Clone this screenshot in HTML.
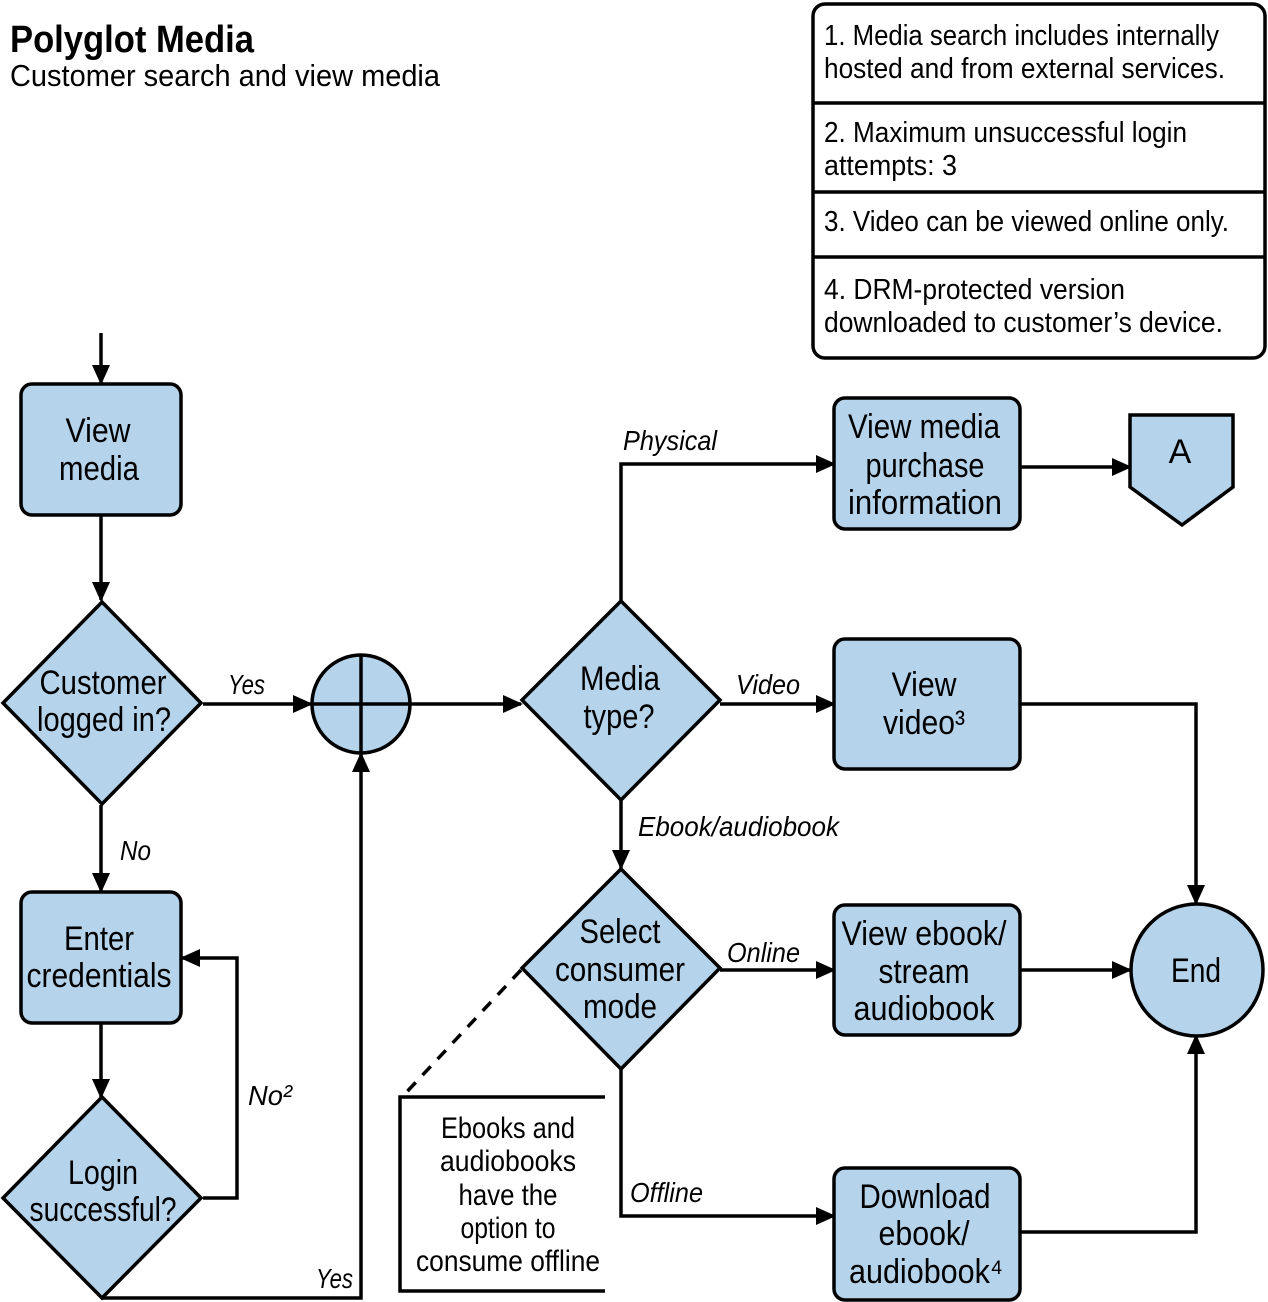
<!DOCTYPE html>
<html><head><meta charset="utf-8"><style>
html,body{margin:0;padding:0;background:#fff}
svg{display:block}
text{font-family:"Liberation Sans",sans-serif;fill:#000}
.n{font-size:34px;text-anchor:middle}
.t{font-size:29px}
.l{font-size:28px;font-style:italic}
.s{stroke:#000;stroke-width:3.5;fill:none}
.f{fill:#b5d3ea;stroke:#000;stroke-width:3.5}
</style></head><body>
<svg width="1268" height="1302" viewBox="0 0 1268 1302" xmlns="http://www.w3.org/2000/svg">
<defs><marker id="a" markerWidth="8" markerHeight="8" refX="7" refY="4" orient="auto" markerUnits="userSpaceOnUse" viewBox="0 0 8 8"><path d="M0,0 L8,4 L0,8 z" fill="#000"/></marker>
<marker id="b" markerWidth="20" markerHeight="20" refX="18" refY="10" orient="auto" markerUnits="userSpaceOnUse"><path d="M0,1 L20,10 L0,19 z" fill="#000"/></marker></defs>

<text x="10" y="52" style="font-size:38px;font-weight:bold" textLength="244" lengthAdjust="spacingAndGlyphs">Polyglot Media</text>
<text x="10" y="86" style="font-size:31px" textLength="430" lengthAdjust="spacingAndGlyphs">Customer search and view media</text>

<!-- notes -->
<rect x="813" y="4" width="452" height="354" rx="12" class="s"/>
<line x1="813" y1="103" x2="1265" y2="103" class="s"/>
<line x1="813" y1="192" x2="1265" y2="192" class="s"/>
<line x1="813" y1="257" x2="1265" y2="257" class="s"/>
<text class="t" x="824" y="45" textLength="395" lengthAdjust="spacingAndGlyphs">1. Media search includes internally</text>
<text class="t" x="824" y="78" textLength="401" lengthAdjust="spacingAndGlyphs">hosted and from external services.</text>
<text class="t" x="824" y="142" textLength="363" lengthAdjust="spacingAndGlyphs">2. Maximum unsuccessful login</text>
<text class="t" x="824" y="175" textLength="133" lengthAdjust="spacingAndGlyphs">attempts: 3</text>
<text class="t" x="824" y="231" textLength="405" lengthAdjust="spacingAndGlyphs">3. Video can be viewed online only.</text>
<text class="t" x="824" y="299" textLength="301" lengthAdjust="spacingAndGlyphs">4. DRM-protected version</text>
<text class="t" x="824" y="332" textLength="399" lengthAdjust="spacingAndGlyphs">downloaded to customer’s device.</text>

<!-- connectors -->
<g class="s">
<line x1="101" y1="333" x2="101" y2="383" marker-end="url(#b)"/>
<line x1="101" y1="515" x2="101" y2="600" marker-end="url(#b)"/>
<line x1="203" y1="704" x2="311" y2="704" marker-end="url(#b)"/>
<line x1="410" y1="704" x2="521" y2="704" marker-end="url(#b)"/>
<polyline points="621,601 621,464 834,464" marker-end="url(#b)"/>
<line x1="1020" y1="467" x2="1130" y2="467" marker-end="url(#b)"/>
<line x1="720" y1="704" x2="834" y2="704" marker-end="url(#b)"/>
<polyline points="1020,704 1196,704 1196,903" marker-end="url(#b)"/>
<line x1="621" y1="800" x2="621" y2="868" marker-end="url(#b)"/>
<line x1="720" y1="970" x2="834" y2="970" marker-end="url(#b)"/>
<line x1="1020" y1="970" x2="1130" y2="970" marker-end="url(#b)"/>
<polyline points="621,1069 621,1216 834,1216" marker-end="url(#b)"/>
<polyline points="1020,1232 1196,1232 1196,1036" marker-end="url(#b)"/>
<line x1="101" y1="805" x2="101" y2="891" marker-end="url(#b)"/>
<line x1="101" y1="1023" x2="101" y2="1097" marker-end="url(#b)"/>
<polyline points="203,1198 237,1198 237,958 182,958" marker-end="url(#b)"/>
<polyline points="102,1298 361,1298 361,754" marker-end="url(#b)"/>
<line x1="521" y1="970" x2="402" y2="1097" stroke-dasharray="12,10"/>
<polyline points="605,1097 400,1097 400,1291 605,1291"/>
</g>

<!-- shapes -->
<rect x="21" y="384" width="160" height="131" rx="11" class="f"/>
<polygon points="102,602 201,703 102,804 3,703" class="f"/>
<circle cx="361" cy="704" r="49" class="f"/>
<line x1="312" y1="704" x2="410" y2="704" class="s"/>
<line x1="361" y1="655" x2="361" y2="753" class="s"/>
<polygon points="621,601 720,700 621,800 522,700" class="f"/>
<rect x="834" y="398" width="186" height="131" rx="11" class="f"/>
<polygon points="1130,415 1233,415 1233,487 1182,525 1130,487" class="f"/>
<rect x="834" y="639" width="186" height="130" rx="11" class="f"/>
<circle cx="1197" cy="970" r="66" class="f"/>
<polygon points="621,869 720,968 621,1069 522,968" class="f"/>
<rect x="834" y="905" width="186" height="130" rx="11" class="f"/>
<rect x="834" y="1168" width="186" height="132" rx="11" class="f"/>
<rect x="21" y="892" width="160" height="131" rx="11" class="f"/>
<polygon points="102,1097 201,1198 102,1298 3,1198" class="f"/>

<!-- node text -->
<text class="n" x="98" y="442" textLength="65" lengthAdjust="spacingAndGlyphs">View</text>
<text class="n" x="99" y="480" textLength="80" lengthAdjust="spacingAndGlyphs">media</text>
<text class="n" x="103" y="694" textLength="127" lengthAdjust="spacingAndGlyphs">Customer</text>
<text class="n" x="104" y="731" textLength="134" lengthAdjust="spacingAndGlyphs">logged in?</text>
<text class="n" x="99" y="950" textLength="70" lengthAdjust="spacingAndGlyphs">Enter</text>
<text class="n" x="99" y="987" textLength="145" lengthAdjust="spacingAndGlyphs">credentials</text>
<text class="n" x="103" y="1184" textLength="70" lengthAdjust="spacingAndGlyphs">Login</text>
<text class="n" x="103" y="1221" textLength="147" lengthAdjust="spacingAndGlyphs">successful?</text>
<text class="n" x="620" y="690" textLength="80" lengthAdjust="spacingAndGlyphs">Media</text>
<text class="n" x="619" y="728" textLength="71" lengthAdjust="spacingAndGlyphs">type?</text>
<text class="n" x="924" y="438" textLength="152" lengthAdjust="spacingAndGlyphs">View media</text>
<text class="n" x="925" y="477" textLength="119" lengthAdjust="spacingAndGlyphs">purchase</text>
<text class="n" x="925" y="514" textLength="154" lengthAdjust="spacingAndGlyphs">information</text>
<text class="n" x="1180" y="463">A</text>
<text class="n" x="924" y="696" textLength="65" lengthAdjust="spacingAndGlyphs">View</text>
<text class="n" x="924" y="734" textLength="82" lengthAdjust="spacingAndGlyphs">video³</text>
<text class="n" x="620" y="943" textLength="81" lengthAdjust="spacingAndGlyphs">Select</text>
<text class="n" x="620" y="981" textLength="130" lengthAdjust="spacingAndGlyphs">consumer</text>
<text class="n" x="620" y="1018" textLength="74" lengthAdjust="spacingAndGlyphs">mode</text>
<text class="n" x="924" y="945" textLength="165" lengthAdjust="spacingAndGlyphs">View ebook/</text>
<text class="n" x="924" y="983" textLength="91" lengthAdjust="spacingAndGlyphs">stream</text>
<text class="n" x="924" y="1020" textLength="141" lengthAdjust="spacingAndGlyphs">audiobook</text>
<text class="n" x="925" y="1208" textLength="131" lengthAdjust="spacingAndGlyphs">Download</text>
<text class="n" x="924" y="1245" textLength="91" lengthAdjust="spacingAndGlyphs">ebook/</text>
<text class="n" x="926" y="1283" textLength="154" lengthAdjust="spacingAndGlyphs">audiobook⁴</text>
<text class="n" x="1196" y="982" textLength="50" lengthAdjust="spacingAndGlyphs">End</text>

<!-- labels -->
<text class="l" x="228" y="694" textLength="37" lengthAdjust="spacingAndGlyphs">Yes</text>
<text class="l" x="120" y="860" textLength="31" lengthAdjust="spacingAndGlyphs">No</text>
<text class="l" x="248" y="1105" textLength="44" lengthAdjust="spacingAndGlyphs">No²</text>
<text class="l" x="316" y="1288" textLength="37" lengthAdjust="spacingAndGlyphs">Yes</text>
<text class="l" x="623" y="450" textLength="94" lengthAdjust="spacingAndGlyphs">Physical</text>
<text class="l" x="736" y="694" textLength="64" lengthAdjust="spacingAndGlyphs">Video</text>
<text class="l" x="638" y="836" textLength="201" lengthAdjust="spacingAndGlyphs">Ebook/audiobook</text>
<text class="l" x="727" y="962" textLength="73" lengthAdjust="spacingAndGlyphs">Online</text>
<text class="l" x="630" y="1202" textLength="73" lengthAdjust="spacingAndGlyphs">Offline</text>

<!-- note -->
<g style="font-size:30px;text-anchor:middle">
<text x="508" y="1138" textLength="134" lengthAdjust="spacingAndGlyphs">Ebooks and</text>
<text x="508" y="1171" textLength="136" lengthAdjust="spacingAndGlyphs">audiobooks</text>
<text x="508" y="1205" textLength="99" lengthAdjust="spacingAndGlyphs">have the</text>
<text x="508" y="1238" textLength="95" lengthAdjust="spacingAndGlyphs">option to</text>
<text x="508" y="1271" textLength="184" lengthAdjust="spacingAndGlyphs">consume offline</text>
</g>
</svg>
</body></html>
